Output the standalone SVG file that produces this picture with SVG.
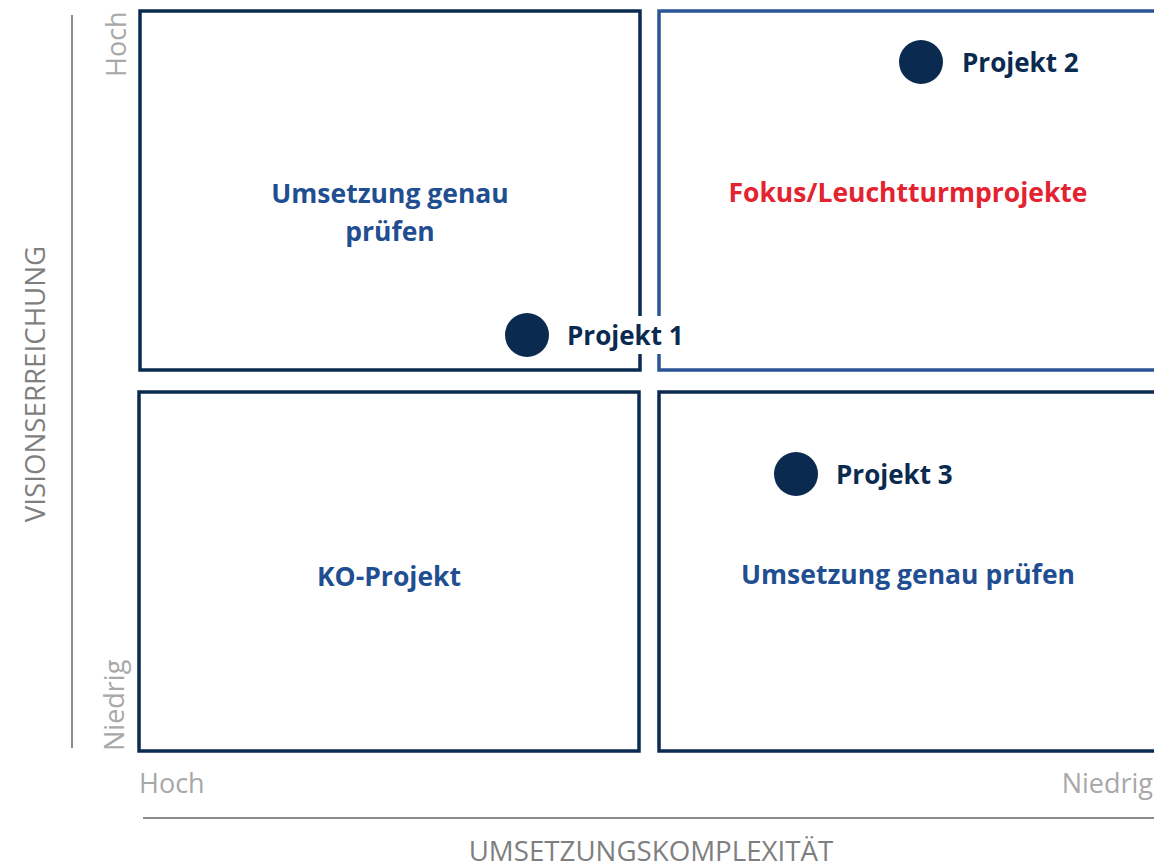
<svg xmlns="http://www.w3.org/2000/svg" width="1154" height="865" viewBox="0 0 1154 865">
<style>
.box{fill:none;stroke:#0a2a4f;stroke-width:3.5}
.box2{fill:none;stroke:#2b5597;stroke-width:3.5}
.ax{stroke:#8c8c8c;stroke-width:2}
.gl{font-family:"Open Sans",sans-serif;font-size:27px;fill:#a8a8a8}
.at{font-family:"Open Sans",sans-serif;font-size:27.7px;fill:#7f7f7f}
.ql{font-family:"Open Sans",sans-serif;font-size:26.5px;font-weight:bold;fill:#1f4e91;text-anchor:middle}
.red{fill:#e3232f}
.dot{fill:#0a2a4f}
.pl{font-family:"Open Sans",sans-serif;font-size:26px;font-weight:bold;fill:#0a2a4f}
</style>
<g id="axes">
<line class="ax" x1="72" y1="15" x2="72" y2="748"/>
<line class="ax" x1="143" y1="818" x2="1154" y2="818"/>
<text class="at" transform="translate(45,384) rotate(-90)" text-anchor="middle">VISIONSERREICHUNG</text>
<text class="at" x="651" y="861" text-anchor="middle">UMSETZUNGSKOMPLEXITÄT</text>
<text class="gl" transform="translate(126,77) rotate(-90)">Hoch</text>
<text class="gl" transform="translate(124,751) rotate(-90)">Niedrig</text>
<text class="gl" x="139" y="793">Hoch</text>
<text class="gl" x="1153" y="793" text-anchor="end">Niedrig</text>
</g>
<g id="q-top-left">
<rect class="box" x="140" y="11" width="500" height="359"/>
<text class="ql" x="390" y="203">Umsetzung genau</text>
<text class="ql" x="390" y="241">prüfen</text>
</g>
<g id="q-top-right">
<rect class="box2" x="659" y="11" width="510" height="359"/>
<text class="ql red" x="908" y="202">Fokus/Leuchtturmprojekte</text>
</g>
<g id="q-bottom-left">
<rect class="box" x="139" y="392" width="500" height="359"/>
<text class="ql" x="389" y="586">KO-Projekt</text>
</g>
<g id="q-bottom-right">
<rect class="box" x="659" y="392" width="510" height="359"/>
<text class="ql" x="908" y="584">Umsetzung genau prüfen</text>
</g>
<g id="projekt-1">
<rect x="562" y="316" width="126" height="38" fill="#fff"/>
<circle class="dot" cx="527" cy="335" r="22"/>
<text class="pl" x="567" y="345">Projekt 1</text>
</g>
<g id="projekt-2">
<circle class="dot" cx="921" cy="62" r="22"/>
<text class="pl" x="962" y="72">Projekt 2</text>
</g>
<g id="projekt-3">
<circle class="dot" cx="796" cy="474" r="22"/>
<text class="pl" x="836" y="484">Projekt 3</text>
</g>
</svg>
